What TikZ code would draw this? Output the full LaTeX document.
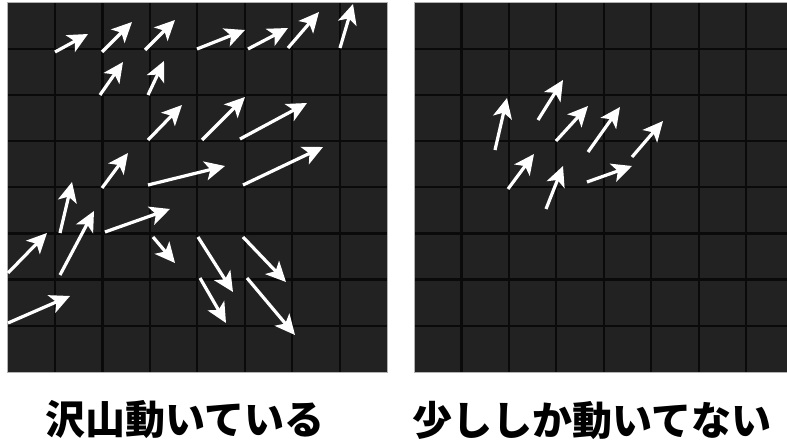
\documentclass[tikz,border=0pt]{standalone}
\usepackage{fontspec}
\newfontfamily\jpfont{Noto Sans CJK JP}
\usepackage{tikz}
\usetikzlibrary{arrows.meta}

\definecolor{cellbg}{HTML}{222222}
\definecolor{gridln}{HTML}{0A0A0A}

\begin{document}
\begin{tikzpicture}[
      x=0.5pt, y=-0.5pt,
      panelrim/.style={draw=gray!60, line width=0.5pt},
      gridline/.style={draw=gridln, line width=1.1pt},
      flow/.style={-{Stealth[length=10pt, width=9.5pt, inset=2.5pt]}, white, line width=1.6pt},
      lbl/.style={font=\jpfont\bfseries\fontsize{20pt}{24pt}\selectfont, inner sep=0pt},
    ]
    \clip (0,0) rectangle (787,443);

    %% Two dark 8x8 grids
    \foreach \ox in {7.5, 414} {
      \fill[cellbg] (\ox,3) rectangle ++(379.6,369);
      \foreach \i in {1,...,7} {
        \draw[gridline] (\ox+\i*47.45,3) -- ++(0,369);
        \draw[gridline] (\ox,3+\i*46.1) -- ++(379.6,0);
      }
      \draw[panelrim] (\ox,3) rectangle ++(379.6,369);
    }

    %% Flow vectors, left grid (lots of motion)
    \foreach \xa/\ya/\xb/\yb in {55/52/88/34, 102/52/132/22, 145/50/175/20,
        197/49/245/30, 248/49/288/28, 288/48/319/12, 340/48/353/4,
        100/95/123/62, 148/95/164/61,
        148/140/182/105, 202/140/245/97, 240/139/307/103,
        102/188/128/153, 148/185/225/166, 243/185/323/147,
        60/233/72/182, 8/273/47/233, 60/275/94/211, 105/232/170/209,
        153/237/175/263, 198/237/233/292, 243/237/286/282,
        8/323/70/296, 200/278/226/323, 247/278/295/335}
      \draw[flow] (\xa,\ya) -- (\xb,\yb);

    %% Flow vectors, right grid (little motion)
    \foreach \xa/\ya/\xb/\yb in {495/150/507/98, 538/120/563/80, 556/141/588/106,
        588/152/620/107, 632/157/663/121, 508/189/534/154,
        546/209/563/166, 587/182/632/166}
      \draw[flow] (\xa,\ya) -- (\xb,\yb);

    %% Captions
    \node[lbl] (capmany) at (185,420) {沢山動いている};
    \node[lbl] (capfew)  at (592,420) {少ししか動いてない};
  \end{tikzpicture}
\end{document}
